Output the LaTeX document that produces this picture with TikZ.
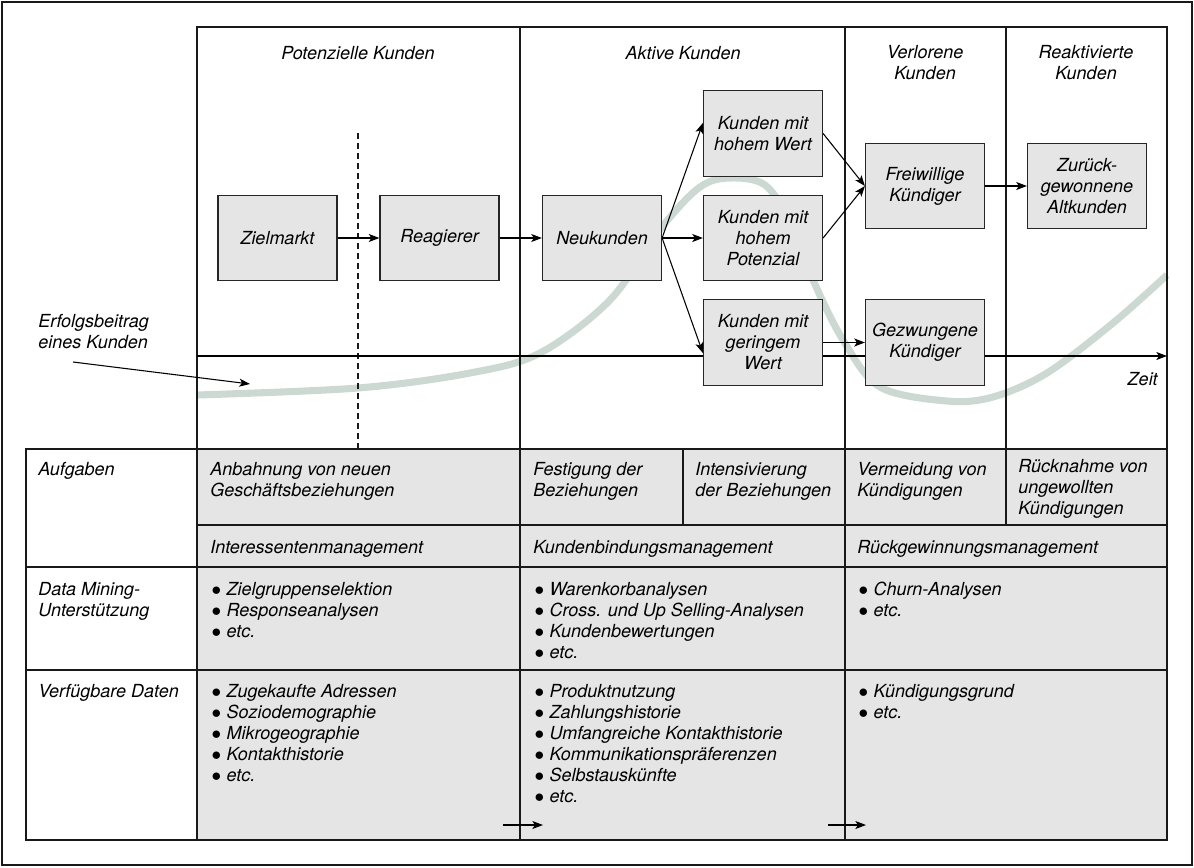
\documentclass[tikz,border=0pt]{standalone}
\usepackage{fontspec}
\setmainfont{TeX Gyre Heros}
\usepackage{tikz}
\usetikzlibrary{arrows.meta}

\definecolor{cellgray}{RGB}{229,229,229}
\definecolor{curvegray}{RGB}{204,216,210}
\newcommand{\kfont}{\fontsize{13.5}{15.75}\selectfont\itshape}
\newcommand{\kitem}{\makebox[12.2pt][l]{\hspace{1pt}$\bullet$}}

\tikzset{
  kbox/.style={draw=black!85, line width=0.9pt, fill=cellgray, minimum width=89.25pt, minimum height=64pt, align=center, inner sep=1pt, font=\kfont},
  ktext/.style={inner sep=0pt, align=left, anchor=north west, font=\kfont},
  khead/.style={inner sep=0pt, align=center, font=\kfont},
  kline/.style={line width=0.9pt, black!90},
  karrow/.style={line width=0.8pt, -{Stealth[length=8pt,width=6pt,inset=2pt]}},
}

\begin{document}
\begin{tikzpicture}[x=0.75pt,y=0.75pt,yscale=-1,xscale=1]
\useasboundingbox (0,0) rectangle (1194,867);

%Outer frame
\draw [kline] (2,2) rectangle (1192,865) ;

%Table background
\fill [cellgray] (197,449) rectangle (1167,840) ;

%Erfolgsbeitrag curve
\draw [curvegray, line width=5.3pt] plot [smooth, tension=0.55] coordinates {(197,395) (358,388) (470,373) (540,353) (610,300) (662,227) (700,187) (730,178) (765,185) (790,222) (813,280) (843,340) (880,387) (947,401) (993,397) (1047,373) (1113,323) (1167,275)} ;

%Upper frame and phase columns
\draw [kline] (197,27) rectangle (1167,449) ;
\draw [kline] (520,27) -- (520,840) ;
\draw [kline] (845,27) -- (845,840) ;
\draw [kline] (1006,27) -- (1006,525) ;
\draw [kline, dash pattern=on 4.5pt off 3pt] (358,133) -- (358,449) ;

%Table grid
\draw [kline] (26,449) rectangle (1167,840) ;
\draw [kline] (197,449) -- (197,840) ;
\draw [kline] (683,449) -- (683,525) ;
\draw [kline] (197,525) -- (1167,525) ;
\draw [kline] (26,567) -- (1167,567) ;
\draw [kline] (26,670) -- (1167,670) ;

%Time axis
\coordinate (zeitstart) at (197,356) ;
\coordinate (zeitend) at (1167,356) ;
\draw [karrow] (zeitstart) -- (zeitend) ;
\node [khead, anchor=east] (zeit) at (1158,379) {Zeit} ;

%Phase headers
\node [khead] (potenziell) at (358,53) {Potenzielle Kunden} ;
\node [khead] (aktiv) at (683,53) {Aktive Kunden} ;
\node [khead] (verloren) at (925,63) {Verlorene\\Kunden} ;
\node [khead] (reaktiviert) at (1086,63) {Reaktivierte\\Kunden} ;

%Customer boxes
\node [kbox] (ziel) at (277.5,238) {Zielmarkt} ;
\node [kbox] (reag) at (439.5,238) {Reagierer} ;
\node [kbox] (neu) at (602,238) {Neukunden} ;
\node [kbox] (hw) at (763,133.5) {Kunden mit\\hohem Wert} ;
\node [kbox] (hp) at (763,238) {Kunden mit\\hohem\\Potenzial} ;
\node [kbox] (gw) at (763,342.5) {Kunden mit\\geringem\\Wert} ;
\node [kbox] (fw) at (925,186) {Freiwillige\\K\"undiger} ;
\node [kbox] (zr) at (1087,186) {Zur\"uck-\\gewonnene\\Altkunden} ;
\node [kbox] (gz) at (925,342.5) {Gezwungene\\K\"undiger} ;

%Connectors
\draw [karrow] (ziel) -- (reag) ;
\draw [karrow] (reag) -- (neu) ;
\draw [karrow] (neu.east) -- (hw.170) ;
\draw [karrow] (neu) -- (hp) ;
\draw [karrow] (neu.east) -- (gw.190) ;
\draw [karrow] (hw.east) -- (fw.west) ;
\draw [karrow] (hp.east) -- (fw.west) ;
\draw [karrow] (gw) -- (gz) ;
\draw [karrow] (fw) -- (zr) ;

%Erfolgsbeitrag label
\node [ktext] (erfolg) at (38,314) {Erfolgsbeitrag\\eines Kunden} ;
\coordinate (erfolgstart) at (73,362) ;
\coordinate (erfolgend) at (250,384) ;
\draw [karrow] (erfolgstart) -- (erfolgend) ;

%Row labels
\node [ktext] (aufgaben) at (38,462) {Aufgaben} ;
\node [ktext] (mining) at (38,582) {Data Mining-\\Unterst\"utzung} ;
\node [ktext] (daten) at (38,684) {Verf\"ugbare Daten} ;

%Aufgaben
\node [ktext] (anbahnung) at (210,462) {Anbahnung von neuen\\Gesch\"aftsbeziehungen} ;
\node [ktext] (festigung) at (533,462) {Festigung der\\Beziehungen} ;
\node [ktext] (intensiv) at (695,462) {Intensivierung\\der Beziehungen} ;
\node [ktext] (vermeidung) at (857,462) {Vermeidung von\\K\"undigungen} ;
\node [ktext] (ruecknahme) at (1018,459) {R\"ucknahme von\\ungewollten\\K\"undigungen} ;

%Management
\node [ktext] (interessent) at (210,540) {Interessentenmanagement} ;
\node [ktext] (bindung) at (533,540) {Kundenbindungsmanagement} ;
\node [ktext] (rueckgewinn) at (857,540) {R\"uckgewinnungsmanagement} ;

%Data Mining
\node [ktext] (mining1) at (210,582) {\kitem Zielgruppenselektion\\\kitem Responseanalysen\\\kitem etc.} ;
\node [ktext] (mining2) at (533,582) {\kitem Warenkorbanalysen\\\kitem Cross. und Up Selling-Analysen\\\kitem Kundenbewertungen\\\kitem etc.} ;
\node [ktext] (mining3) at (857,582) {\kitem Churn-Analysen\\\kitem etc.} ;

%Verfuegbare Daten
\node [ktext] (daten1) at (210,684) {\kitem Zugekaufte Adressen\\\kitem Soziodemographie\\\kitem Mikrogeographie\\\kitem Kontakthistorie\\\kitem etc.} ;
\node [ktext] (daten2) at (533,684) {\kitem Produktnutzung\\\kitem Zahlungshistorie\\\kitem Umfangreiche Kontakthistorie\\\kitem Kommunikationspr\"aferenzen\\\kitem Selbstausk\"unfte\\\kitem etc.} ;
\node [ktext] (daten3) at (857,684) {\kitem K\"undigungsgrund\\\kitem etc.} ;

%Transition arrows
\coordinate (uebergang1a) at (503,825) ;
\coordinate (uebergang1b) at (543,825) ;
\coordinate (uebergang2a) at (828,825) ;
\coordinate (uebergang2b) at (866,825) ;
\draw [karrow] (uebergang1a) -- (uebergang1b) ;
\draw [karrow] (uebergang2a) -- (uebergang2b) ;

\end{tikzpicture}
\end{document}
